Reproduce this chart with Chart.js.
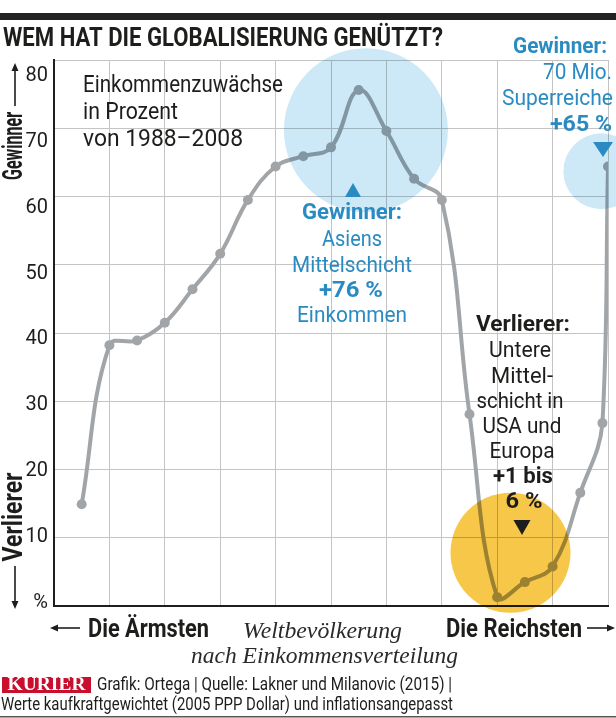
<!DOCTYPE html>
<html lang="de">
<head>
<meta charset="utf-8">
<title>Wem hat die Globalisierung genützt?</title>
<script src="https://cdn.jsdelivr.net/npm/chart.js@4"></script>
<style>
  html, body { margin: 0; padding: 0; background: #fff; }
  canvas { display: block; }
</style>
</head>
<body>
<canvas id="elefant" width="616" height="718"></canvas>
<script>
// Perzentil der Weltbevölkerung (nach Einkommen) und Zuwachs 1988-2008 in %
const pctl = [5, 10, 15, 20, 25, 30, 35, 40, 45, 50, 55, 60, 65, 70, 75, 80, 85, 90, 95, 99, 100];
const gain = [14.9, 38.2, 38.9, 41.5, 46.4, 51.6, 59.5, 64.4, 65.9, 67.2, 75.6, 69.6, 62.6, 59.5, 28.1, 1.3, 3.5, 5.8, 16.6, 26.8, 64.4];

const yTicks = [0, 10, 20, 30, 40, 50, 60, 70, 80];
const yTickText = ['%', '10', '20', '30', '40', '50', '60', '70', '80'];

const BLUE = '#2a8bc2';
const INK = '#1d1d1b';

// Kreise (Mittelpunkt in Datenkoordinaten, Radius in px)
const bubbles = [
  { x: 56.3, y: 69.7, r: 82, color: 'rgb(205,233,247)' },
  { x: 98.8, y: 63.7, r: 38, color: 'rgb(205,233,247)' },
  { x: 82.4, y: 7.8, r: 60, color: 'rgb(246,199,72)' }
];

const fonts = {
  blueB:  ['bold 22px Roboto', BLUE],
  blue:   ['22px Roboto', BLUE],
  inkB:   ['bold 22px Roboto', INK],
  ink:    ['22px Roboto', INK],
  intro:  ['24px Roboto', INK],
  bottom: ['bold 26px Roboto', INK],
  serif:  ['italic 24px "Liberation Serif"', '#2a2a2a'],
  foot:   ['19px Roboto', INK]
};

// [text, x, y, breite, stil, ausrichtung]
const labels = [
  ['WEM HAT DIE GLOBALISIERUNG GENÜTZT?', 3, 39, 440, ['bold 26px Roboto', INK], 'left'],
  ['Einkommenzuwächse', 83, 86, 200, fonts.intro, 'left'],
  ['in Prozent', 83, 113, 95, fonts.intro, 'left'],
  ['von 1988–2008', 83, 140, 160, fonts.intro, 'left'],

  ['Gewinner:', 607, 47, 94, fonts.blueB, 'right'],
  ['70 Mio.', 612, 73, 69, fonts.blue, 'right'],
  ['Superreiche', 613, 99, 111, fonts.blue, 'right'],
  ['+65 %', 612, 125, 62, fonts.blueB, 'right'],

  ['Gewinner:', 352, 213, 100, fonts.blueB, 'center'],
  ['Asiens', 352, 240, 60, fonts.blue, 'center'],
  ['Mittelschicht', 352, 266, 120, fonts.blue, 'center'],
  ['+76 %', 351, 291, 64, fonts.blueB, 'center'],
  ['Einkommen', 352, 316, 110, fonts.blue, 'center'],

  ['Verlierer:', 523, 325, 94, fonts.inkB, 'center'],
  ['Untere', 520, 351, 62, fonts.ink, 'center'],
  ['Mittel-', 522, 377, 62, fonts.ink, 'center'],
  ['schicht in', 520, 402, 87, fonts.ink, 'center'],
  ['USA und', 522, 427, 79, fonts.ink, 'center'],
  ['Europa', 522, 452, 65, fonts.ink, 'center'],
  ['+1 bis', 523, 477, 60, fonts.inkB, 'center'],
  ['6 %', 524, 502, 37, fonts.inkB, 'center'],

  ['Die Ärmsten', 88, 630, 121, fonts.bottom, 'left'],
  ['Die Reichsten', 446, 630, 136, fonts.bottom, 'left'],
  ['Weltbevölkerung', 243, 632, 159, fonts.serif, 'left'],
  ['nach Einkommensverteilung', 191, 657, 267, fonts.serif, 'left'],

  ['Grafik: Ortega | Quelle: Lakner und Milanovic (2015) |', 97, 685, 355, fonts.foot, 'left'],
  ['Werte kaufkraftgewichtet (2005 PPP Dollar) und inflationsangepasst', 1, 705, 452, fonts.foot, 'left']
];

// Text mit fester Breite (horizontal gestaucht, wie die schmale Zeitungsschrift)
function txt(ctx, s, x, y, w, style, align) {
  ctx.save();
  ctx.font = style[0];
  ctx.fillStyle = style[1];
  ctx.textBaseline = 'middle';
  ctx.textAlign = 'left';
  const k = w / ctx.measureText(s).width;
  const left = align === 'center' ? x - w / 2 : align === 'right' ? x - w : x;
  ctx.translate(left, y);
  ctx.scale(k, 1);
  ctx.fillText(s, 0, 0);
  ctx.restore();
}

function vtxt(ctx, s, x, yc, len, style) {
  ctx.save();
  ctx.font = style[0];
  ctx.fillStyle = style[1];
  ctx.textBaseline = 'alphabetic';
  ctx.textAlign = 'left';
  const k = len / ctx.measureText(s).width;
  ctx.translate(x, yc);
  ctx.rotate(-Math.PI / 2);
  ctx.translate(-len / 2, 0);
  ctx.scale(k, 1);
  ctx.fillText(s, 0, 0);
  ctx.restore();
}

function arrow(ctx, x1, y1, x2, y2) {
  const a = Math.atan2(y2 - y1, x2 - x1);
  ctx.save();
  ctx.strokeStyle = INK;
  ctx.fillStyle = INK;
  ctx.lineWidth = 1.6;
  ctx.beginPath();
  ctx.moveTo(x1, y1);
  ctx.lineTo(x2 - 5 * Math.cos(a), y2 - 5 * Math.sin(a));
  ctx.stroke();
  ctx.beginPath();
  ctx.moveTo(x2, y2);
  ctx.lineTo(x2 - 8 * Math.cos(a) + 3.5 * Math.sin(a), y2 - 8 * Math.sin(a) - 3.5 * Math.cos(a));
  ctx.lineTo(x2 - 8 * Math.cos(a) - 3.5 * Math.sin(a), y2 - 8 * Math.sin(a) + 3.5 * Math.cos(a));
  ctx.closePath();
  ctx.fill();
  ctx.restore();
}

function tri(ctx, cx, top, w, h, up, color) {
  ctx.save();
  ctx.fillStyle = color;
  ctx.beginPath();
  if (up) {
    ctx.moveTo(cx, top); ctx.lineTo(cx + w / 2, top + h); ctx.lineTo(cx - w / 2, top + h);
  } else {
    ctx.moveTo(cx - w / 2, top); ctx.lineTo(cx + w / 2, top); ctx.lineTo(cx, top + h);
  }
  ctx.closePath();
  ctx.fill();
  ctx.restore();
}

const grafik = {
  id: 'grafik',
  afterDatasetsDraw(chart) {
    const ctx = chart.ctx;
    const sx = chart.scales.x, sy = chart.scales.y;
    ctx.save();
    ctx.globalCompositeOperation = 'multiply';
    bubbles.forEach(b => {
      ctx.fillStyle = b.color;
      ctx.beginPath();
      ctx.arc(sx.getPixelForValue(b.x), sy.getPixelForValue(b.y), b.r, 0, Math.PI * 2);
      ctx.fill();
    });
    ctx.restore();
  },
  afterDraw(chart) {
    const ctx = chart.ctx;
    // Balken oben, Linie unten
    ctx.fillStyle = '#222';
    ctx.fillRect(0, 13, 616, 7);
    ctx.fillStyle = '#555';
    ctx.fillRect(0, 716, 616, 1.5);

    labels.forEach(l => txt(ctx, l[0], l[1], l[2], l[3], l[4], l[5]));

    tri(ctx, 353, 183, 16, 14, true, BLUE);
    tri(ctx, 603, 142, 20, 15, false, BLUE);
    tri(ctx, 522, 520, 17, 15, false, INK);

    // seitliche Achsenbeschriftung
    vtxt(ctx, 'Gewinner', 22, 146, 68, ['bold 28px Roboto', INK]);
    vtxt(ctx, 'Verlierer', 22, 517, 89, ['bold 28px Roboto', INK]);
    arrow(ctx, 15, 106, 15, 63);
    arrow(ctx, 15, 566, 15, 609);

    // Pfeile unten
    arrow(ctx, 80, 628, 50, 628);
    arrow(ctx, 587, 628, 615, 628);

    // KURIER Logo
    ctx.fillStyle = '#c8102e';
    ctx.fillRect(2, 677, 89, 16);
    txt(ctx, 'KURIER', 46.5, 685.5, 78, ['bold 18px "Liberation Serif"', '#fff'], 'center');
  }
};

new Chart(document.getElementById('elefant'), {
  type: 'line',
  data: {
    datasets: [{
      data: pctl.map((p, i) => ({ x: p, y: gain[i] })),
      borderColor: '#a2a5a8',
      backgroundColor: '#a2a5a8',
      borderWidth: 4,
      tension: 0.4,
      pointRadius: 5,
      pointBorderWidth: 0,
      fill: false
    }]
  },
  options: {
    responsive: false,
    animation: false,
    layout: { padding: { top: 60, bottom: 112, left: 0, right: 8 } },
    plugins: { legend: { display: false }, tooltip: { enabled: false } },
    scales: {
      x: {
        type: 'linear',
        min: 0, max: 100,
        ticks: { display: false, stepSize: 10 },
        grid: { color: '#c4c4c4', lineWidth: 1, drawTicks: false },
        border: { color: '#1f1f1f', width: 2 },
        afterFit: (s) => { s.height = 0; }
      },
      y: {
        min: 0, max: 80,
        ticks: { display: false, stepSize: 10 },
        grid: { color: '#c4c4c4', lineWidth: 1, drawTicks: false },
        border: { color: '#1f1f1f', width: 2 },
        afterFit: (s) => { s.width = 0; }
      },
      yl: {
        position: 'left',
        weight: 1,
        min: -0.45, max: 82.4,
        afterBuildTicks: (s) => { s.ticks = yTicks.map(v => ({ value: v })); },
        ticks: {
          padding: 6,
          color: INK,
          font: { family: 'Roboto', size: 20 },
          callback: (v) => yTickText[yTicks.indexOf(v)]
        },
        grid: { display: false, drawTicks: false },
        border: { display: false },
        afterFit: (s) => { s.width = 54; }
      }
    }
  },
  plugins: [grafik]
});
</script>
</body>
</html>
